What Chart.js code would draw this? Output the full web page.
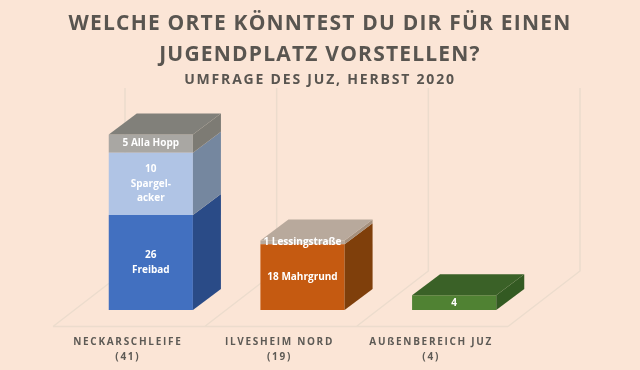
<!DOCTYPE html>
<html><head><meta charset="utf-8">
<style>html,body{margin:0;padding:0;background:#fbe5d6}canvas{display:block}</style>
<script src="https://cdn.jsdelivr.net/npm/chart.js@4"></script></head>
<body><canvas id="c" width="640" height="370"></canvas>
<script>
const titleLines = ["WELCHE ORTE KÖNNTEST DU DIR FÜR EINEN", "JUGENDPLATZ VORSTELLEN?"];
const subtitleText = "UMFRAGE DES JUZ, HERBST 2020";
const categories = [["NECKARSCHLEIFE", "(41)"], ["ILVESHEIM NORD", "(19)"], ["AUßENBEREICH JUZ", "(4)"]];
// Segment heights as drawn in the picture (Spargelacker is drawn about 17 units tall though labelled 10)
const lowerValues = [26, 18, 4];
const middleValues = [17, 1, 0];
const upperValues = [5, 0, 0];
const lowerLabels = [["26", "Freibad"], ["18 Mahrgrund"], ["4"]];
const middleLabels = [["10", "Spargel-", "acker"], ["1 Lessingstraße"], []];
const upperLabels = [["5 Alla Hopp"], [], []];
const lowerFront = ["#4270c0", "#c55a11", "#508233"];
const middleFront = ["#b0c4e5", "#b8a99c", "#b8a99c"];
const upperFront = ["#a9a7a3", "#a9a7a3", "#a9a7a3"];
const lowerSide = ["#2a4b87", "#7f3f0b", "#335a22"];
const middleSide = ["#75879f", "#a5917f", "#a5917f"];
const upperSide = ["#7d7b74", "#7d7b74", "#7d7b74"];
const topFaces = ["#81807a", "#b8a99c", "#3a6127"];
const DEPTH_X = 28, DEPTH_Y = 21;

const allLabels = [lowerLabels, middleLabels, upperLabels];
const allSides = [lowerSide, middleSide, upperSide];

function face(ctx, pts, color) {
  ctx.fillStyle = color;
  ctx.beginPath();
  pts.forEach((p, i) => i ? ctx.lineTo(p[0], p[1]) : ctx.moveTo(p[0], p[1]));
  ctx.closePath();
  ctx.fill();
}

const spaced = (box, drawName, spacing) => {
  const orig = box[drawName];
  if (box.__spaced) return;
  box.__spaced = true;
  box[drawName] = function () {
    const ctx = this.ctx;
    const prev = ctx.letterSpacing;
    ctx.letterSpacing = spacing;
    orig.apply(this, arguments);
    ctx.letterSpacing = prev;
  };
};

const look3d = {
  id: "look3d",
  afterLayout(chart) {
    chart.boxes.forEach(b => {
      if (b.options && b.options.text !== undefined && !b.isHorizontal === false) {
        b.left = 0; b.right = 640;
        spaced(b, "draw", b.options.text === subtitleText ? "1.8px" : "1.2px");
      }
    });
    spaced(chart.scales.x, "drawLabels", "1.7px");
  },
  beforeDatasetsDraw(chart) {
    const ctx = chart.ctx, x = chart.scales.x, base = chart.scales.y.getPixelForValue(0);
    const band = (x.getPixelForValue(1) - x.getPixelForValue(0));
    const edge0 = x.getPixelForValue(0) - band / 2;
    const frontY = base + 16.5, backY = base - 39, topY = 88;
    ctx.save();
    ctx.strokeStyle = "#ecdccd";
    ctx.lineWidth = 1.5;
    ctx.beginPath();
    ctx.moveTo(edge0 - 22, frontY);
    ctx.lineTo(edge0 + 3 * band - 22, frontY);
    for (let i = 0; i <= 3; i++) {
      const e = edge0 + i * band;
      ctx.moveTo(e - 22, frontY);
      ctx.lineTo(e + 50, backY);
      ctx.lineTo(e + 50, topY);
    }
    ctx.stroke();
    ctx.restore();
  },
  afterDatasetsDraw(chart) {
    const ctx = chart.ctx;
    ctx.save();
    categories.forEach((_, i) => {
      let topBar = null;
      chart.data.datasets.forEach((ds, d) => {
        if (!ds.data[i]) return;
        const b = chart.getDatasetMeta(d).data[i];
        const r = b.x + b.width / 2;
        face(ctx, [[r, b.y], [r + DEPTH_X, b.y - DEPTH_Y], [r + DEPTH_X, b.base - DEPTH_Y], [r, b.base]], allSides[d][i]);
        topBar = b;
      });
      const l = topBar.x - topBar.width / 2, r = topBar.x + topBar.width / 2, y = topBar.y;
      face(ctx, [[l, y], [l + DEPTH_X, y - DEPTH_Y], [r + DEPTH_X, y - DEPTH_Y], [r, y]], topFaces[i]);
    });
    ctx.fillStyle = "#ffffff";
    ctx.font = "700 10px 'Open Sans'";
    ctx.textAlign = "center";
    ctx.textBaseline = "middle";
    allLabels.forEach((set, d) => {
      set.forEach((lines, i) => {
        if (!lines.length) return;
        const b = chart.getDatasetMeta(d).data[i];
        const cy = (b.y + b.base) / 2;
        lines.forEach((t, k) => ctx.fillText(t, b.x, cy + (k - (lines.length - 1) / 2) * 14.5));
      });
    });
    ctx.restore();
  }
};

new Chart(document.getElementById("c"), {
  type: "bar",
  data: {
    labels: categories,
    datasets: [
      { data: lowerValues, backgroundColor: lowerFront },
      { data: middleValues, backgroundColor: middleFront },
      { data: upperValues, backgroundColor: upperFront }
    ]
  },
  options: {
    responsive: false,
    animation: false,
    layout: { padding: { left: 75, right: 110, top: 0, bottom: 0 } },
    datasets: { bar: { barPercentage: 1, categoryPercentage: 0.555, borderWidth: 0 } },
    plugins: {
      legend: { display: false },
      tooltip: { enabled: false },
      title: {
        display: true, text: titleLines, color: "#595550",
        font: { family: "'Open Sans'", size: 21, weight: "700", lineHeight: 1.476 },
        padding: { top: 8.5, bottom: 0 }
      },
      subtitle: {
        display: true, text: subtitleText, color: "#595550",
        font: { family: "'Open Sans'", size: 14, weight: "700", lineHeight: 1.3 },
        padding: { top: 0, bottom: 0 }
      }
    },
    scales: {
      x: {
        stacked: true,
        grid: { display: false, drawTicks: false },
        border: { display: false },
        afterFit(s) { s.height = 60; },
        ticks: {
          color: "#5d5a55", padding: 24, labelOffset: -23, maxRotation: 0, autoSkip: false,
          font: { family: "'Open Sans'", size: 10, weight: "700", lineHeight: 1.55 }
        }
      },
      y: { stacked: true, display: false, min: 0, max: 60.5 }
    }
  },
  plugins: [look3d]
});
</script></body></html>
